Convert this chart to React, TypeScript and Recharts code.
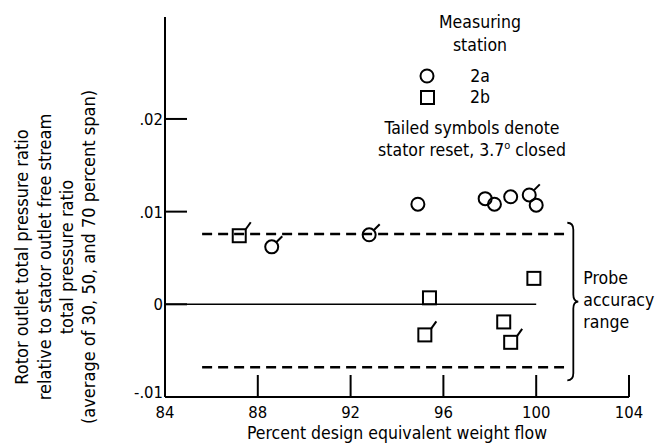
import React from 'react';
import { ScatterChart, Scatter, XAxis, YAxis, ReferenceLine, Legend } from 'recharts';

const FONT = "'Liberation Sans Narrow', 'DejaVu Sans Condensed', 'DejaVu Sans', sans-serif";

const xTicks = [84, 88, 92, 96, 100, 104];
const yTicks = [-0.01, 0, 0.01, 0.02];

// measuring station 2a (circles)
const station2a = [
  { x: 88.6, y: 0.0062, tailed: true },
  { x: 92.8, y: 0.0075, tailed: true },
  { x: 94.9, y: 0.0108, tailed: false },
  { x: 97.8, y: 0.0114, tailed: false },
  { x: 98.2, y: 0.0108, tailed: false },
  { x: 98.9, y: 0.0116, tailed: false },
  { x: 99.7, y: 0.0118, tailed: true },
  { x: 100.0, y: 0.0107, tailed: false },
];

// measuring station 2b (squares)
const station2b = [
  { x: 87.2, y: 0.0074, tailed: true },
  { x: 95.4, y: 0.0007, tailed: false },
  { x: 95.2, y: -0.0033, tailed: true },
  { x: 98.6, y: -0.0019, tailed: false },
  { x: 98.9, y: -0.0041, tailed: true },
  { x: 99.9, y: 0.0028, tailed: false },
];

// probe accuracy band
const bandUpper = 0.0076;
const bandLower = -0.0068;
const bandStart = 85.6;
const bandEnd = 101.2;
const braceX = 101.6;
const braceTop = 0.0088;
const braceBottom = -0.0082;

const yLabelLines = [
  'Rotor outlet total pressure ratio',
  'relative to stator outlet free stream',
  'total pressure ratio',
  '(average of 30,  50,  and 70 percent span)',
];

const fmtY = (v: number) => {
  if (v === 0) return '0';
  const s = Math.abs(v).toFixed(2).replace(/^0/, '');
  return v < 0 ? '-' + s : s;
};

const CircleMark = (props: any) => {
  const { cx, cy, payload } = props;
  const r = 6.5;
  const d = r * 0.7;
  return (
    <g>
      <circle cx={cx} cy={cy} r={r} fill="none" stroke="#000" strokeWidth={2} />
      {payload.tailed && (
        <line x1={cx + d} y1={cy - d} x2={cx + d + 6} y2={cy - d - 6} stroke="#000" strokeWidth={2} />
      )}
    </g>
  );
};

const SquareMark = (props: any) => {
  const { cx, cy, payload } = props;
  const h = 6.5;
  return (
    <g>
      <rect x={cx - h} y={cy - h} width={h * 2} height={h * 2} fill="none" stroke="#000" strokeWidth={2} />
      {payload.tailed && (
        <line x1={cx + h} y1={cy - h} x2={cx + h + 5} y2={cy - h - 7} stroke="#000" strokeWidth={2} />
      )}
    </g>
  );
};

const XTick = (props: any) => {
  const { x, y, payload } = props;
  return (
    <g>
      {payload.value !== 84 && <line x1={x} y1={y} x2={x} y2={y - 22} stroke="#000" strokeWidth={2} />}
      <text x={x} y={y + 21} textAnchor="middle" fontSize={16.5} fontFamily={FONT} fill="#000">
        {payload.value}
      </text>
    </g>
  );
};

const YTick = (props: any) => {
  const { x, y, payload } = props;
  const bottom = payload.value === -0.01;
  return (
    <g>
      {!bottom && <line x1={x} y1={y} x2={x + 22} y2={y} stroke="#000" strokeWidth={2} />}
      <text x={x - 2} y={bottom ? y + 1 : y + 6} textAnchor="end" fontSize={16.5} fontFamily={FONT} fill="#000">
        {fmtY(payload.value)}
      </text>
    </g>
  );
};

const YLabel = () => {
  const xs = [21, 44, 66, 88];
  const cy = 257;
  return (
    <g>
      {yLabelLines.map((t, i) => (
        <text
          key={i}
          x={xs[i]}
          y={cy}
          transform={`rotate(-90 ${xs[i]} ${cy})`}
          textAnchor="middle"
          dominantBaseline="central"
          fontSize={18}
          fontFamily={FONT}
          fill="#000"
        >
          {t}
        </text>
      ))}
    </g>
  );
};

const XLabel = () => (
  <text x={397} y={439} textAnchor="middle" fontSize={17.5} fontFamily={FONT} fill="#000">
    Percent design equivalent weight flow
  </text>
);

const Brace = (props: any) => {
  const { x1, y1, y2 } = props;
  const top = Math.min(y1, y2);
  const bot = Math.max(y1, y2);
  const mid = (top + bot) / 2;
  const d = `M ${x1 - 6} ${top} Q ${x1} ${top} ${x1} ${top + 7} L ${x1} ${mid - 7} Q ${x1} ${mid} ${x1 + 5} ${mid} Q ${x1} ${mid} ${x1} ${mid + 7} L ${x1} ${bot - 7} Q ${x1} ${bot} ${x1 - 6} ${bot}`;
  return (
    <g>
      <path d={d} fill="none" stroke="#000" strokeWidth={1.8} />
      {['Probe', 'accuracy', 'range'].map((t, i) => (
        <text key={t} x={x1 + 10} y={mid - 18 + i * 22} fontSize={17.5} fontFamily={FONT} fill="#000">
          {t}
        </text>
      ))}
    </g>
  );
};

const StationLegend = () => (
  <svg width={220} height={160} style={{ overflow: 'visible' }}>
    <g fontFamily={FONT} fontSize={17.5} fill="#000" textAnchor="middle">
      <text x={110} y={24}>Measuring</text>
      <text x={110} y={47}>station</text>
      <circle cx={57} cy={72} r={6.5} fill="none" stroke="#000" strokeWidth={2} />
      <text x={110} y={78}>2a</text>
      <rect x={51} y={87} width={13} height={13} fill="none" stroke="#000" strokeWidth={2} />
      <text x={110} y={99}>2b</text>
      <text x={102} y={130}>Tailed symbols denote</text>
      <text x={102} y={152}>
        stator reset, 3.7<tspan dy={-7} fontSize={11}>o</tspan>
        <tspan dy={7}> closed</tspan>
      </text>
    </g>
  </svg>
);

export default function App() {
  return (
    <div style={{ position: 'absolute', left: 0, top: 0, width: 656, height: 446, background: '#fff' }}>
      <ScatterChart width={656} height={446} margin={{ top: 17, right: 27, bottom: 0, left: 65 }}>
        <XAxis
          type="number"
          dataKey="x"
          domain={[84, 104]}
          ticks={xTicks}
          height={49}
          tickSize={0}
          tickMargin={0}
          tickLine={false}
          axisLine={{ stroke: '#000', strokeWidth: 2 }}
          tick={<XTick />}
          label={<XLabel />}
          allowDataOverflow
        />
        <YAxis
          type="number"
          dataKey="y"
          domain={[-0.01, 0.031]}
          ticks={yTicks}
          width={100}
          tickSize={0}
          tickMargin={0}
          tickLine={false}
          axisLine={{ stroke: '#000', strokeWidth: 2 }}
          tick={<YTick />}
          label={<YLabel />}
          allowDataOverflow
        />
        <ReferenceLine segment={[{ x: 84, y: 0 }, { x: 100, y: 0 }]} stroke="#000" strokeWidth={1.5} />
        <ReferenceLine
          segment={[{ x: bandStart, y: bandUpper }, { x: bandEnd, y: bandUpper }]}
          stroke="#000"
          strokeWidth={2.5}
          strokeDasharray="10 6"
        />
        <ReferenceLine
          segment={[{ x: bandStart, y: bandLower }, { x: bandEnd, y: bandLower }]}
          stroke="#000"
          strokeWidth={2.5}
          strokeDasharray="10 6"
        />
        <ReferenceLine
          segment={[{ x: braceX, y: braceTop }, { x: braceX, y: braceBottom }]}
          shape={(p: any) => <Brace {...p} />}
        />
        <Legend
          layout="vertical"
          align="center"
          verticalAlign="middle"
          content={<StationLegend />}
          wrapperStyle={{ left: 370, top: 4, width: 220, height: 160 }}
        />
        <Scatter name="2a" data={station2a} shape={<CircleMark />} isAnimationActive={false} />
        <Scatter name="2b" data={station2b} shape={<SquareMark />} isAnimationActive={false} />
      </ScatterChart>
    </div>
  );
}
